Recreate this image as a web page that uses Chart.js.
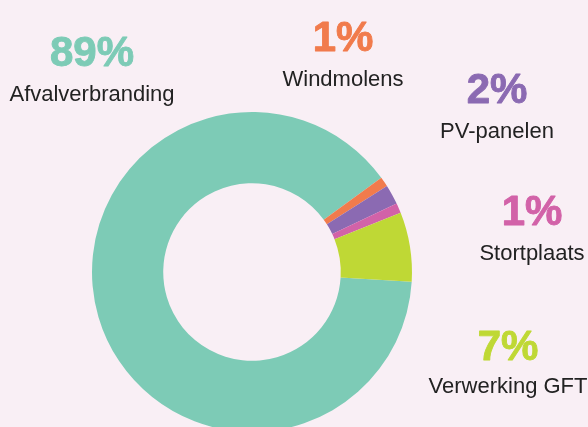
<!DOCTYPE html>
<html>
<head>
<meta charset="utf-8">
<script src="https://cdn.jsdelivr.net/npm/chart.js@4/dist/chart.umd.min.js"></script>
<style>
  html, body { margin: 0; padding: 0; background: #f9eff5; }
  #wrap { width: 588px; height: 427px; position: relative; }
</style>
</head>
<body>
<div id="wrap"><canvas id="chart" width="588" height="427"></canvas></div>
<script>
// waarden (procent) per bron
const categories = ["Afvalverbranding", "Windmolens", "PV-panelen", "Stortplaats", "Verwerking GFT"];
const values = [89, 1, 2, 1, 7];
const colors = ["#7dcbb6", "#f17b4c", "#8b6ab2", "#d262a8", "#bfd835"];

// label anchors (center x, baseline of percentage, baseline of name)
const labelPos = [
    [92, 66, 101],
    [343, 51, 86],
    [497, 103, 138],
    [532, 225, 260],
    [508, 360, 393]
];

const labelPlugin = {
    id: "sliceLabels",
    afterDraw(chart){
        const ctx = chart.ctx;
        ctx.save();
        ctx.textAlign = "center";
        ctx.textBaseline = "alphabetic";
        categories.forEach((name, i) => {
            const p = labelPos[i];
            ctx.fillStyle = colors[i];
            ctx.strokeStyle = colors[i];
            ctx.lineWidth = 0.9;
            ctx.lineJoin = "round";
            ctx.font = "bold 42px 'Liberation Sans', Arial, sans-serif";
            ctx.fillText(values[i] + "%", p[0], p[1]);
            ctx.strokeText(values[i] + "%", p[0], p[1]);
            ctx.fillStyle = "#222222";
            ctx.font = "22px 'Liberation Sans', Arial, sans-serif";
            ctx.fillText(name, p[0], p[2]);
        });
        ctx.restore();
    }
};

const ctx = document.getElementById("chart").getContext("2d");
new Chart(ctx, {
    type: "doughnut",
    data: {
        labels: categories,
        datasets: [{
            data: values,
            backgroundColor: colors,
            borderWidth: 0,
            clip: false
        }]
    },
    options: {
        responsive: false,
        animation: false,
        rotation: 93.5,
        radius: 160,
        cutout: 86,
        layout: { padding: { left: 0, right: 84, top: 117, bottom: 0 } },
        plugins: {
            legend: { display: false },
            tooltip: { enabled: false }
        }
    },
    plugins: [labelPlugin]
});
</script>
</body>
</html>
